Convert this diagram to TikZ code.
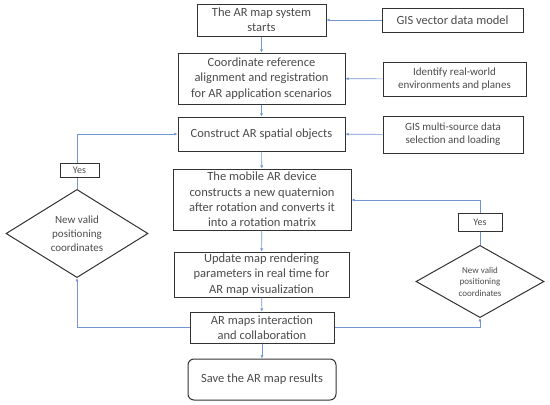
\documentclass[tikz,border=0pt]{standalone}
\usepackage{fontspec}
\setmainfont{Carlito}
\usetikzlibrary{arrows.meta}
\usetikzlibrary{shapes.geometric}
\definecolor{arblue}{RGB}{68,114,196}
\definecolor{boxline}{RGB}{50,50,50}
\definecolor{artext}{RGB}{75,75,75}

\begin{document}
\begin{tikzpicture}[x=1pt,y=-1pt,
    procbox/.style={draw=boxline,line width=1pt,inner sep=0pt,align=center,
      font=\fontsize{12.5}{15.3}\selectfont,text=artext},
    sidebox/.style={procbox,font=\fontsize{11}{13}\selectfont},
    decide/.style={draw=boxline,line width=1pt,diamond,inner sep=0pt,align=center,
      font=\fontsize{11}{14}\selectfont,text=artext},
    yesbox/.style={draw=boxline,line width=1pt,fill=white,inner sep=0pt,
      font=\fontsize{10}{12}\selectfont,text=artext},
    link/.style={draw=arblue!75,line width=0.6pt,-{Latex[length=3.2pt,width=3.2pt]}}]
        \useasboundingbox (0,0) rectangle (550,405);

        \node[procbox,minimum width=129pt,minimum height=32pt] (start) at (261.5,20) {The AR map system\\starts};
        \node[procbox,minimum width=167pt,minimum height=51pt] (align) at (261.5,78.5) {Coordinate reference\\alignment and registration\\for AR application scenarios};
        \node[procbox,minimum width=167pt,minimum height=34pt] (build) at (261.5,134) {Construct AR spatial objects};
        \node[procbox,minimum width=178pt,minimum height=61pt] (quat) at (262,199.5) {The mobile AR device\\constructs a new quaternion\\after rotation and converts it\\into a rotation matrix};
        \node[procbox,minimum width=175pt,minimum height=45pt] (update) at (261.5,274.5) {Update map rendering\\parameters in real time for\\AR map visualization};
        \node[procbox,minimum width=144pt,minimum height=31pt] (inter) at (262,327.5) {AR maps interaction\\and collaboration};
        \node[procbox,rounded corners=6pt,minimum width=148pt,minimum height=41pt] (save) at (262,379.5) {Save the AR map results};

        \node[procbox,minimum width=141pt,minimum height=24pt] (vector) at (452.5,20) {GIS vector data model};
        \node[sidebox,minimum width=143pt,minimum height=34pt] (ident) at (454.5,79) {Identify real-world\\environments and planes};
        \node[sidebox,minimum width=140pt,minimum height=37pt] (multi) at (453,134.5) {GIS multi-source data\\selection and loading};

        \node[decide,minimum width=142pt,minimum height=75pt] (leftpos) at (77,233.5) {New valid\\positioning\\coordinates};
        \node[yesbox,minimum width=39pt,minimum height=14pt] (leftyes) at (79.5,170) {Yes};
        \node[decide,font=\fontsize{9}{11.5}\selectfont,minimum width=128pt,minimum height=61pt] (rightpos) at (480,281.5) {New valid\\positioning\\coordinates};
        \node[yesbox,minimum width=44pt,minimum height=18pt] (rightyes) at (480,222) {Yes};

        \coordinate (lefttop) at (77,134);
        \coordinate (leftlow) at (77,327.5);
        \coordinate (righttop) at (480,200);
        \coordinate (rightlow) at (480,327.5);

        \draw[link] (start) -- (align);
        \draw[link] (align) -- (build);
        \draw[link] (build) -- (quat);
        \draw[link] (quat) -- (update);
        \draw[link] (update) -- (inter);
        \draw[link] (inter) -- (save);
        \draw[link] (vector) -- (start);
        \draw[link] (ident) -- (align);
        \draw[link] (multi) -- (build);
        \draw[link] (inter.west) -- (leftlow) -- (leftpos.south);
        \draw[link] (inter.east) -- (rightlow) -- (rightpos.south);
        \draw[link,-] (leftpos.north) -- (leftpos.north |- leftyes.south);
        \draw[link] (leftpos.north |- leftyes.north) -- (lefttop) -- (build.west);
        \draw[link,-] (rightpos.north) -- (rightyes.south);
        \draw[link] (rightyes.north) -- (righttop) -- (righttop -| quat.east);
      \end{tikzpicture}
\end{document}
